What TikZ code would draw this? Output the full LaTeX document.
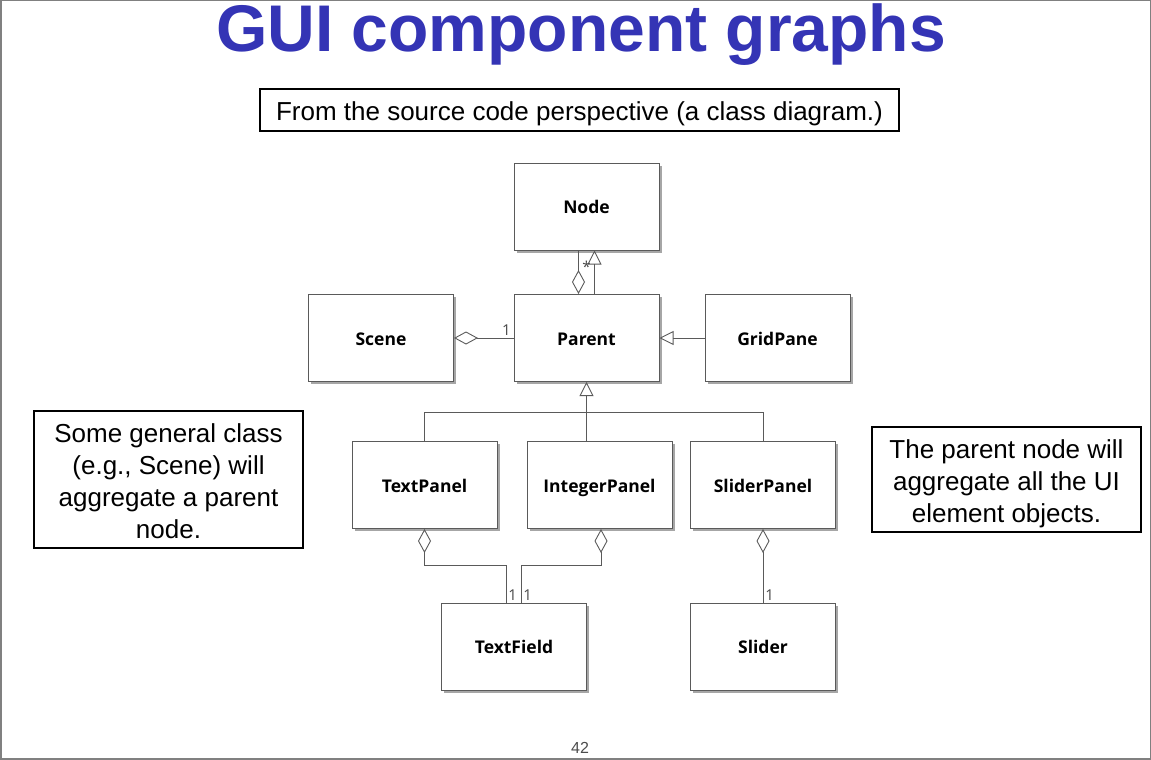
\documentclass[tikz,border=0pt]{standalone}
\usepackage{fontspec}
\setmainfont{Liberation Sans}
\newfontfamily\umlfont{Open Sans}
\usetikzlibrary{positioning}
\usetikzlibrary{calc}
\usetikzlibrary{arrows.meta}
\usetikzlibrary{shadows}
\definecolor{titleblue}{RGB}{52,52,181}
\definecolor{umlgray}{RGB}{90,90,90}
\newcommand{\notestrut}[1]{\rule{0pt}{#1}}
\tikzset{
    classbox/.style = {rectangle,draw=umlgray,fill=white,line width=1pt,minimum width=145pt,minimum height=87pt,
        font=\umlfont\bfseries\fontsize{17.5}{20}\selectfont,text height=16pt,text depth=2pt,
        drop shadow={shadow xshift=2.5pt,shadow yshift=-2.5pt,opacity=0.35,fill=black}},
    notebox/.style = {rectangle,draw,line width=1.5pt,align=center,font=\fontsize{26}{32}\selectfont},
    mult/.style = {font=\umlfont\fontsize{15}{17}\selectfont,text=umlgray!80!black,inner sep=2pt},
    link/.style = {draw=umlgray,line width=0.9pt},
    aggregation/.style = {link,-{Diamond[open,length=24pt,width=13pt]}},
    generalization/.style = {link,-{Triangle[open,length=14pt,width=14pt]}}}
\begin{document}
\begin{tikzpicture}[x=1pt,y=-1pt]
    \useasboundingbox (0,0) rectangle (1151,760);
    \draw[gray,line width=1.5pt] (0.75,0.75) rectangle (1150.25,759);
    \node[text=titleblue,font=\bfseries\fontsize{66}{70}\selectfont,anchor=base] (title) at (581,52) {GUI component graphs};
    \node[notebox,minimum width=639pt,minimum height=42pt,inner sep=2pt,text height=27pt] (view) at (579.5,110) {From the source code perspective (a class diagram.)};
    \path (586.5,206.5) node[classbox] (Node) {Node}
        ++ (0,131.5) node[classbox] (Parent) {Parent}
        + (-205.5,0) node[classbox] (Scene) {Scene}
        + (191,0) node[classbox] (GridPane) {GridPane}
        ++ (-162,147) node[classbox] (TextPanel) {TextPanel}
        + (175,0) node[classbox] (IntegerPanel) {IntegerPanel}
        + (338.5,0) node[classbox] (SliderPanel) {SliderPanel}
        ++ (89.5,161.5) node[classbox] (TextField) {TextField}
        + (249,0) node[classbox] (Slider) {Slider};
    \node[notebox,minimum width=269pt,minimum height=137pt] (leftnote) at (168.5,479.5) {\notestrut{23pt}Some general class\\(e.g., Scene) will\\aggregate a parent\\node.};
    \node[notebox,minimum width=269pt,minimum height=105pt] (rightnote) at (1006.5,479.5) {\notestrut{27pt}The parent node will\\aggregate all the UI\\element objects.};
    \node[text=gray!60!black,font=\fontsize{16}{18}\selectfont] (page) at (580,748) {42};
    % associations
    \draw[aggregation] ([xshift=-8]Node.south) -- ([xshift=-8]Parent.north);
    \draw[generalization] ([xshift=8]Parent.north) -- ([xshift=8]Node.south);
    \node[mult] (star) at ($(Node.south)+(0,16)$) {*};
    \draw[aggregation] (Parent.west) -- node[mult,pos=0.12,above] {1} (Scene.east);
    \draw[generalization] (GridPane.west) -- (Parent.east);
    \coordinate (bus) at ($(Parent.south)+(0,30.5)$);
    \draw[link] (TextPanel.north) |- (bus) -| (SliderPanel.north);
    \draw[generalization] (IntegerPanel.north -| Parent.south) -- (Parent.south);
    \draw[aggregation] ([xshift=-8]TextField.north) node[mult,anchor=south west] {1} -- ++(0,-37) -| (TextPanel.south);
    \draw[aggregation] ([xshift=7]TextField.north) node[mult,anchor=south west] {1} -- ++(0,-37) -| ([xshift=1.5]IntegerPanel.south);
    \draw[aggregation] (Slider.north) node[mult,anchor=south west] {1} -- (SliderPanel.south);
\end{tikzpicture}
\end{document}
